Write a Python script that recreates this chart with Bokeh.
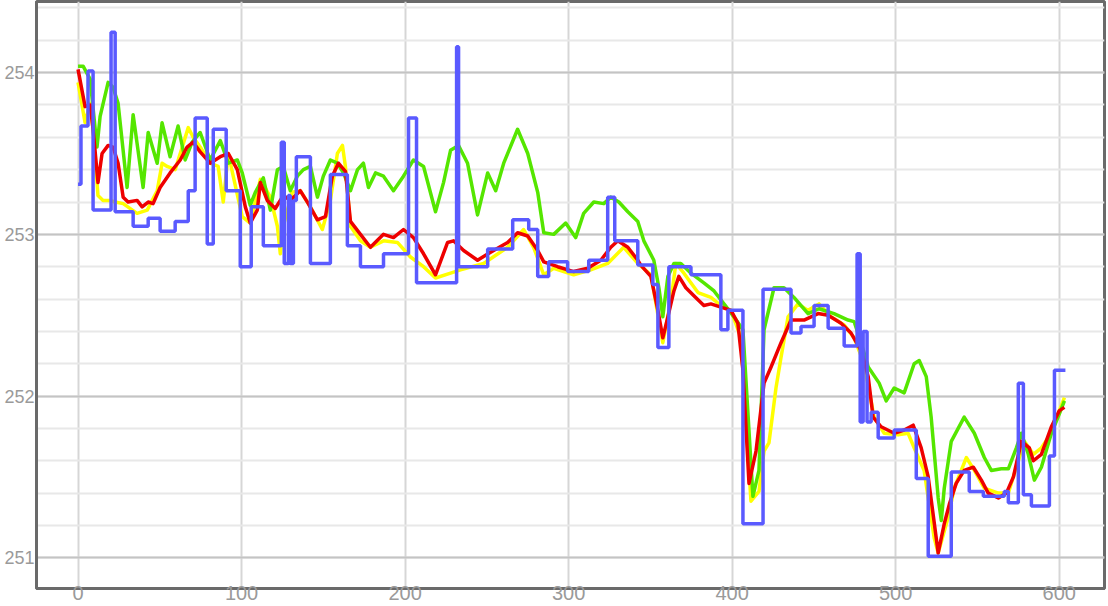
from bokeh.plotting import figure
from bokeh.models import Range1d, FixedTicker
from bokeh.embed import file_html
from bokeh.resources import INLINE

# ---- data ----
x_ticks = [0, 100, 200, 300, 400, 500, 600]
y_ticks = [251, 252, 253, 254]

yellow_x = [0, 4.3, 7.4, 9.2, 12.2, 15.3, 19.6, 22.7, 27.6, 36.1, 42.3, 48.4, 51.4, 54.5, 59.4, 62.5, 67.4, 70.4,
            74.7, 80.8, 85.7, 88.8, 91.9, 94.9, 100.4, 105.3, 111.5, 117.6, 121.9, 123.7, 125.5, 131.0, 135.9,
            142.1, 149.4, 154.3, 158.6, 161.7, 163.5, 166.6, 172.7, 178.8, 186.8, 195.3, 203.3, 211.3, 218.6,
            227.8, 233.9, 248.0, 262.7, 272.5, 278.6, 284.8, 290.9, 303.1, 313.5, 323.9, 333.7, 342.3, 350.3,
            357.6, 362.5, 365.6, 370.5, 379.1, 387.0, 393.1, 399.3, 405.4, 411.5, 416.4, 419.5, 422.5, 426.8,
            429.9, 434.2, 440.3, 446.4, 453.1, 460.5, 468.5, 474.6, 480.7, 486.8, 493.0, 501.5, 507.6, 511.3,
            517.4, 523.6, 526.0, 532.1, 535.8, 543.2, 548.1, 554.2, 562.8, 568.9, 575.0, 578.7, 584.2, 589.1,
            595.2, 600.1, 603.2]
yellow_y = [253.94, 253.69, 253.81, 253.65, 253.24, 253.21, 253.21, 253.20, 253.19, 253.13, 253.15, 253.27, 253.44,
            253.42, 253.40, 253.50, 253.66, 253.60, 253.54, 253.44, 253.42, 253.20, 253.50, 253.36, 253.11, 253.07,
            253.34, 253.23, 253.05, 252.88, 253.05, 253.26, 253.27, 253.17, 253.03, 253.21, 253.50, 253.55, 253.42,
            253.05, 252.96, 252.92, 252.96, 252.95, 252.86, 252.80, 252.73, 252.76, 252.78, 252.82, 252.92, 253.03,
            252.92, 252.75, 252.79, 252.75, 252.78, 252.82, 252.92, 252.82, 252.75, 252.33, 252.59, 252.82, 252.76,
            252.64, 252.61, 252.56, 252.53, 252.36, 251.35, 251.41, 251.66, 251.71, 252.05, 252.24, 252.49, 252.57,
            252.53, 252.57, 252.49, 252.44, 252.36, 252.20, 251.87, 251.77, 251.76, 251.77, 251.68, 251.54, 251.12,
            251.03, 251.25, 251.43, 251.62, 251.54, 251.43, 251.40, 251.40, 251.60, 251.72, 251.64, 251.68, 251.77,
            251.91, 251.99]

green_x = [0, 3.1, 7.4, 11.6, 13.5, 18.4, 21.4, 24.5, 30.0, 33.7, 39.8, 42.9, 48.4, 51.4, 56.3, 61.2, 65.5, 69.8,
           74.7, 80.8, 87.0, 91.9, 97.4, 100.4, 105.3, 108.4, 113.3, 117.6, 121.9, 125.5, 129.8, 134.1, 137.8,
           142.1, 146.4, 150.0, 154.3, 158.6, 162.3, 166.6, 170.9, 174.5, 177.6, 181.9, 186.8, 192.9, 199.0,
           205.1, 211.3, 218.6, 223.5, 227.8, 232.7, 238.2, 244.3, 250.5, 255.4, 260.3, 268.8, 275.0, 281.1,
           284.8, 290.9, 298.2, 304.3, 309.2, 315.4, 321.5, 325.8, 330.7, 336.2, 342.3, 346.0, 352.1, 355.2,
           357.6, 360.7, 364.4, 368.6, 374.8, 382.7, 388.9, 395.0, 401.1, 406.6, 412.7, 416.4, 419.5, 425.6,
           431.7, 437.8, 446.4, 453.1, 462.3, 470.9, 474.6, 478.9, 483.2, 489.9, 494.2, 499.1, 505.2, 511.3,
           514.4, 518.7, 521.7, 526.0, 527.9, 529.7, 534.0, 541.9, 548.1, 554.2, 558.5, 564.6, 568.9, 573.8,
           576.9, 581.1, 584.8, 589.1, 595.2, 600.1, 603.2]
green_y = [254.04, 254.04, 253.96, 253.54, 253.73, 253.94, 253.91, 253.81, 253.29, 253.74, 253.29, 253.63, 253.44,
           253.69, 253.48, 253.67, 253.46, 253.57, 253.63, 253.46, 253.58, 253.44, 253.46, 253.38, 253.18, 253.26,
           253.35, 253.15, 253.40, 253.42, 253.27, 253.36, 253.40, 253.42, 253.23, 253.36, 253.46, 253.44, 253.38,
           253.27, 253.40, 253.44, 253.29, 253.38, 253.36, 253.27, 253.36, 253.46, 253.42, 253.14, 253.32, 253.52,
           253.55, 253.44, 253.12, 253.38, 253.27, 253.44, 253.65, 253.50, 253.26, 253.01, 253.00, 253.07, 252.98,
           253.13, 253.20, 253.19, 253.23, 253.20, 253.14, 253.08, 252.96, 252.84, 252.67, 252.49, 252.74, 252.82,
           252.82, 252.76, 252.70, 252.65, 252.57, 252.49, 252.41, 251.38, 251.54, 252.41, 252.67, 252.67, 252.61,
           252.51, 252.54, 252.51, 252.47, 252.46, 252.33, 252.18, 252.08, 251.97, 252.05, 252.02, 252.20, 252.22,
           252.12, 251.87, 251.37, 251.23, 251.43, 251.72, 251.87, 251.77, 251.62, 251.54, 251.55, 251.55, 251.68,
           251.77, 251.64, 251.48, 251.56, 251.77, 251.89, 251.97]

red_x = [0, 4.3, 7.4, 9.2, 12.2, 14.7, 18.4, 21.4, 24.5, 27.6, 30.6, 36.1, 39.2, 42.9, 45.9, 50.2, 56.3, 62.5, 66.7,
         70.4, 74.7, 80.8, 87.0, 91.9, 97.4, 102.3, 105.3, 109.6, 111.5, 115.7, 120.6, 125.5, 129.8, 135.9, 140.8,
         146.4, 151.3, 155.5, 159.2, 163.5, 166.6, 172.7, 178.8, 186.8, 192.9, 199.0, 205.1, 211.3, 218.6, 226.0,
         229.6, 235.8, 244.3, 252.3, 262.7, 268.8, 275.0, 281.1, 284.8, 293.3, 303.1, 311.7, 319.7, 325.8, 330.1,
         336.2, 342.3, 344.1, 350.3, 354.6, 357.6, 360.7, 364.4, 367.4, 371.7, 376.6, 382.7, 387.0, 393.1, 399.3,
         403.5, 406.6, 410.3, 414.6, 419.5, 423.8, 429.9, 436.0, 444.0, 452.5, 458.7, 466.6, 472.7, 478.9, 483.2,
         486.2, 491.1, 499.1, 505.2, 510.7, 515.6, 519.9, 526.0, 529.7, 532.8, 537.0, 541.9, 547.5, 552.4, 556.6,
         562.8, 567.7, 572.0, 576.9, 581.7, 584.2, 589.1, 595.2, 600.1, 603.2]
red_y = [254.02, 253.79, 253.80, 253.65, 253.32, 253.50, 253.55, 253.54, 253.44, 253.23, 253.20, 253.21, 253.17,
         253.20, 253.19, 253.29, 253.38, 253.46, 253.54, 253.57, 253.51, 253.44, 253.48, 253.50, 253.40, 253.17,
         253.07, 253.15, 253.32, 253.21, 253.16, 253.24, 253.21, 253.27, 253.19, 253.09, 253.11, 253.36, 253.44,
         253.39, 253.08, 253.00, 252.92, 253.00, 252.98, 253.03, 252.98, 252.88, 252.75, 252.95, 252.96, 252.90,
         252.84, 252.89, 252.95, 253.01, 252.99, 252.90, 252.83, 252.80, 252.77, 252.79, 252.84, 252.92, 252.96,
         252.92, 252.84, 252.81, 252.74, 252.53, 252.36, 252.49, 252.65, 252.74, 252.67, 252.62, 252.56, 252.57,
         252.55, 252.53, 252.45, 252.16, 251.46, 251.66, 252.08, 252.18, 252.33, 252.47, 252.47, 252.51, 252.50,
         252.45, 252.39, 252.28, 252.12, 251.87, 251.81, 251.77, 251.79, 251.82, 251.68, 251.50, 251.03, 251.21,
         251.33, 251.46, 251.54, 251.56, 251.48, 251.40, 251.37, 251.40, 251.50, 251.72, 251.68, 251.60, 251.64,
         251.81, 251.91, 251.93]

# blue: step series, value holds from each x until the next x
blue_x = [0, 1.8, 6.1, 9.2, 20.2, 22.7, 33.7, 42.9, 50.2, 59.4, 67.4, 71.6, 79.0, 82.7, 90.6, 99.2, 105.9, 113.3,
          124.3, 126.1, 128.6, 129.8, 131.7, 133.5, 142.1, 154.3, 164.7, 172.7, 186.8, 202.1, 207.0, 231.5, 232.7,
          250.5, 265.8, 275.6, 281.1, 287.8, 299.4, 312.3, 323.9, 328.2, 342.3, 351.5, 354.6, 361.3, 374.8, 393.1,
          397.4, 406.6, 418.9, 436.0, 442.1, 450.1, 458.7, 468.5, 476.4, 478.3, 480.1, 482.5, 485.0, 489.3, 499.1,
          512.6, 519.9, 534.0, 545.0, 553.6, 566.4, 568.9, 575.0, 578.1, 583.0, 594.0, 597.1, 603.8]
blue_y = [253.31, 253.67, 254.01, 253.15, 254.25, 253.14, 253.05, 253.10, 253.02, 253.08, 253.27, 253.72, 252.94,
          253.65, 253.27, 252.80, 253.17, 252.93, 253.57, 252.82, 253.24, 252.82, 253.21, 253.48, 252.82, 253.37,
          252.93, 252.80, 252.88, 253.72, 252.70, 254.16, 252.80, 252.91, 253.09, 253.03, 252.74, 252.83, 252.77,
          252.84, 253.23, 252.96, 252.81, 252.69, 252.30, 252.80, 252.75, 252.41, 252.53, 251.21, 252.66, 252.39,
          252.43, 252.56, 252.42, 252.31, 252.88, 251.84, 252.40, 251.84, 251.90, 251.74, 251.79, 251.49, 251.01,
          251.53, 251.41, 251.38, 251.41, 251.34, 252.08, 251.39, 251.32, 251.63, 252.16, 252.16]

minor_y = [round(250.8 + 0.2 * i, 1) for i in range(19)]

p = figure(width=1116, height=606, output_backend="svg", toolbar_location=None,
           x_range=Range1d(-25.4, 627.7), y_range=Range1d(250.81, 254.44),
           min_border_left=44, min_border_right=4, min_border_top=1, min_border_bottom=18,
           background_fill_color="white", border_fill_color="white")
p.styles = {"margin-left": "-8px", "margin-top": "0px"}

p.outline_line_color = "#6a6a6a"
p.outline_line_width = 3

p.xaxis.ticker = FixedTicker(ticks=x_ticks)
p.yaxis.ticker = FixedTicker(ticks=y_ticks, minor_ticks=minor_y)
for ax in (p.xaxis, p.yaxis):
    ax.axis_line_color = "#6a6a6a"
    ax.axis_line_width = 3
    ax.major_tick_line_color = None
    ax.minor_tick_line_color = None
    ax.major_tick_out = 0
    ax.major_tick_in = 0
    ax.minor_tick_out = 0
    ax.minor_tick_in = 0
    ax.major_label_text_font = "Liberation Sans"
    ax.major_label_text_color = "#9a9a9a"
p.yaxis.major_label_text_font_size = "18px"
p.xaxis.major_label_text_font_size = "20px"
p.yaxis.major_label_standoff = 2
p.xaxis.major_label_standoff = -3

p.xgrid.grid_line_color = "#d6d6d6"
p.xgrid.grid_line_width = 2
p.ygrid.grid_line_color = "#c4c4c4"
p.ygrid.grid_line_width = 2
p.ygrid.minor_grid_line_color = "#e8e8e8"
p.ygrid.minor_grid_line_width = 2

p.line(yellow_x, yellow_y, line_color="#ffff00", line_width=3.5, line_join="round")
p.line(green_x, green_y, line_color="#55e600", line_width=3.5, line_join="round")
p.line(red_x, red_y, line_color="#ee0000", line_width=3.5, line_join="round")
p.step(blue_x, blue_y, mode="after", line_color="#5a5aff", line_width=3.5)

open("out.html", "w").write(file_html(p, INLINE))
